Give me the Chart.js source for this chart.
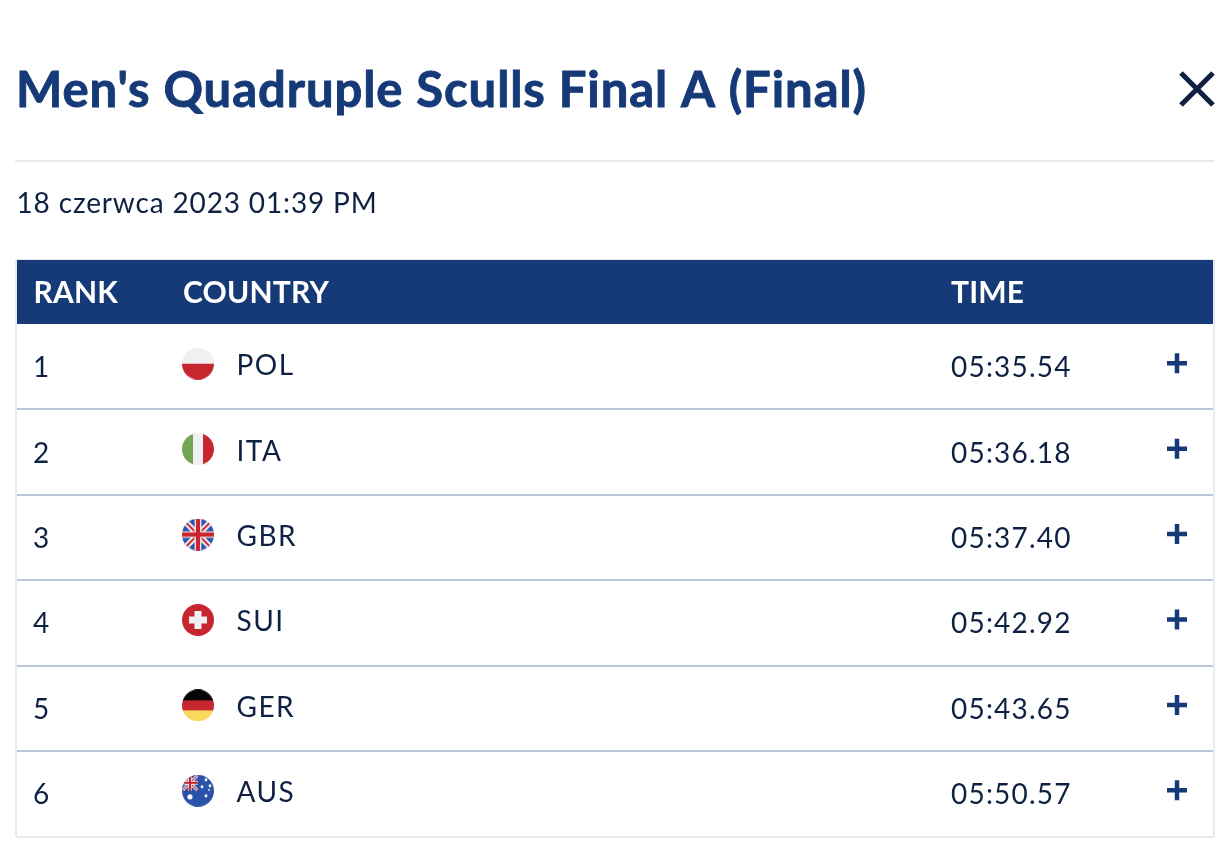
<!DOCTYPE html>
<html><head><meta charset="utf-8">
<style>html,body{margin:0;padding:0;background:#fff;overflow:hidden}canvas{display:block}</style>
<script src="https://cdn.jsdelivr.net/npm/chart.js@4"></script>
</head><body><canvas id="c" width="1228" height="860"></canvas>
<script>
const titleText = "Men's Quadruple Sculls Final A (Final)";
const dateText = "18 czerwca 2023 01:39 PM";
const headers = ["RANK", "COUNTRY", "TIME"];
const ranks = ["1", "2", "3", "4", "5", "6"];
const countries = ["POL", "ITA", "GBR", "SUI", "GER", "AUS"];
const times = ["05:35.54", "05:36.18", "05:37.40", "05:42.92", "05:43.65", "05:50.57"];

const NAVY = "#163a78", INK = "#0e2142", RULE = "#e8eaef", ROW = "#bcc6d6";
const RED = "#c8262f", PALE = "#f0f0f3", BLUE = "#2a52a8";
const COL = {rank: 16.5, country: 166, flag: 181, code: 219.5, time: 934, plus: 1160};
const TABLE_RIGHT = 1213;
const noPadding = () => ({left: 0, top: 0, right: 0, bottom: 0});

function union(g, s, cx, cy) {
  g.save(); g.translate(cx, cy);
  g.fillStyle = BLUE; g.fillRect(-s, -s, 2*s, 2*s);
  g.lineCap = "butt";
  const line = (c, w, pts) => { g.strokeStyle = c; g.lineWidth = w; g.beginPath(); g.moveTo(pts[0], pts[1]); g.lineTo(pts[2], pts[3]); g.stroke(); };
  [[-s,-s,s,s],[-s,s,s,-s]].forEach(p => line("#fff", s*0.36, p));
  [[-s,-s,s,s],[-s,s,s,-s]].forEach(p => line(RED, s*0.13, p));
  [[-s,0,s,0],[0,-s,0,s]].forEach(p => line("#fff", s*0.42, p));
  [[-s,0,s,0],[0,-s,0,s]].forEach(p => line(RED, s*0.27, p));
  g.restore();
}
const painters = {
  POL: g => { g.fillStyle = PALE; g.fillRect(0,0,32,16); g.fillStyle = RED; g.fillRect(0,16,32,16); },
  ITA: g => { g.fillStyle = "#72a556"; g.fillRect(0,0,11,32); g.fillStyle = PALE; g.fillRect(11,0,10,32); g.fillStyle = RED; g.fillRect(21,0,11,32); },
  GBR: g => union(g, 16, 16, 16),
  SUI: g => { g.fillStyle = RED; g.fillRect(0,0,32,32); g.fillStyle = PALE; g.fillRect(12.5,7,7,18); g.fillRect(7,12.5,18,7); },
  GER: g => { g.fillStyle = "#050505"; g.fillRect(0,0,32,11); g.fillStyle = RED; g.fillRect(0,11,32,10); g.fillStyle = "#fbd75e"; g.fillRect(0,21,32,11); },
  AUS: g => {
    g.fillStyle = BLUE; g.fillRect(0,0,32,32);
    g.save(); g.beginPath(); g.rect(0,0,16,16); g.clip(); union(g, 8, 8, 8); g.restore();
    g.fillStyle = "#fff";
    [[8,22,2.6],[24,5,1.4],[28,11,1.4],[20,12,1.4],[24,21,1.5],[27,15,0.9]].forEach(([x,y,r]) => { g.beginPath(); g.arc(x,y,r,0,7); g.fill(); });
  }
};
function flag(code) {
  const c = document.createElement("canvas"); c.width = c.height = 32;
  const g = c.getContext("2d");
  g.beginPath(); g.arc(16,16,16,0,Math.PI*2); g.clip();
  painters[code](g);
  return c;
}

const tableDecor = {
  id: "tableDecor",
  afterLayout(chart) {
    const a = chart.chartArea, x = chart.scales.x, y = chart.scales.y;
    a.right = TABLE_RIGHT; a.width = TABLE_RIGHT - a.left;
    x.right = TABLE_RIGHT; x.width = a.width; x.configure();
    y.left = y.right = a.left;
  },
  beforeDraw(chart) {
    const {ctx, chartArea: a, scales: {x}} = chart;
    ctx.save();
    ctx.fillStyle = RULE;
    ctx.fillRect(15, 160, 1199, 2);
    ctx.fillRect(15, x.top - 1, 1199, 1);
    ctx.fillRect(a.left - 2, x.top, 2, a.bottom - x.top + 1);
    ctx.fillRect(a.right, x.top, 2, a.bottom - x.top + 1);
    ctx.restore();
    ctx.letterSpacing = "0.2px";
  },
  afterDatasetsDraw(chart) { chart.ctx.save(); chart.ctx.translate(0, 1.5); },
  afterDraw(chart) {
    const {ctx, scales: {x, y}} = chart;
    ctx.restore();
    ctx.save();
    ctx.textBaseline = "alphabetic"; ctx.textAlign = "left";
    ctx.fillStyle = NAVY; ctx.strokeStyle = NAVY; ctx.lineWidth = 0.9;
    ctx.font = "bold 49px Lato"; ctx.letterSpacing = "0.93px";
    ctx.fillText(titleText, 16, 106.5);
    ctx.strokeText(titleText, 16, 106.5);
    ctx.fillStyle = INK; ctx.font = "28px Lato"; ctx.letterSpacing = "0.85px";
    ctx.fillText(dateText, 16.5, 213);
    ranks.forEach((r, i) => {
      const py = y.getPixelForValue(i);
      ctx.letterSpacing = "1.5px";
      ctx.fillText(countries[i], x.getPixelForValue(COL.code), py + 8.5);
      ctx.letterSpacing = "1.2px";
      ctx.fillText(times[i], x.getPixelForValue(COL.time), py + 10.5);
    });
    ctx.strokeStyle = INK; ctx.lineWidth = 5; ctx.lineCap = "butt";
    ctx.beginPath(); ctx.moveTo(1181, 73); ctx.lineTo(1213, 105); ctx.moveTo(1213, 73); ctx.lineTo(1181, 105); ctx.stroke();
    ctx.restore();
    ctx.letterSpacing = "0px";
  },
  beforeDatasetDraw(chart, args) { chart.ctx.save(); chart.ctx.translate(0, args.index === 0 ? -3 : -3.5); },
  afterDatasetDraw(chart) { chart.ctx.restore(); }
};

new Chart(document.getElementById("c"), {
  type: "scatter",
  plugins: [tableDecor],
  data: { datasets: [
    { label: "flag", data: ranks.map(r => ({x: COL.flag, y: r})), pointStyle: countries.map(flag), pointRadius: 16, clip: false },
    { label: "expand", data: ranks.map(r => ({x: COL.plus, y: r})), pointStyle: "cross", pointRadius: 10, borderColor: NAVY, borderWidth: 4.5, clip: false }
  ]},
  options: {
    responsive: false, animation: false, devicePixelRatio: 1,
    layout: { padding: {top: 260, left: 17, right: 15, bottom: 23.5} },
    events: [],
    plugins: { legend: {display: false}, tooltip: {enabled: false} },
    scales: {
      x: { type: "linear", position: "top", min: 0, max: 1196, backgroundColor: NAVY,
        afterBuildTicks: s => { s.ticks = [COL.rank, COL.country, COL.time].map(value => ({value})); },
        afterFit: s => { s.height = 64; s.getPadding = noPadding; },
        border: {display: false}, grid: {display: false, drawTicks: false},
        ticks: { align: "start", autoSkip: false, maxRotation: 0, color: "#fff", padding: 13,
          font: {family: "Lato", size: 30, weight: "bold"},
          callback: v => headers[[COL.rank, COL.country, COL.time].indexOf(v)] } },
      y: { type: "category", labels: ranks, offset: true,
        afterFit: s => { s.width = 0; s.getPadding = noPadding; },
        border: {display: false},
        grid: { offset: true, drawTicks: false, lineWidth: 2,
          color: c => c.index === 0 ? "rgba(0,0,0,0)" : c.index === undefined ? RULE : ROW },
        ticks: { mirror: true, padding: 16, z: 1, color: INK, font: {family: "Lato", size: 28} } }
    }
  }
});
</script></body></html>
